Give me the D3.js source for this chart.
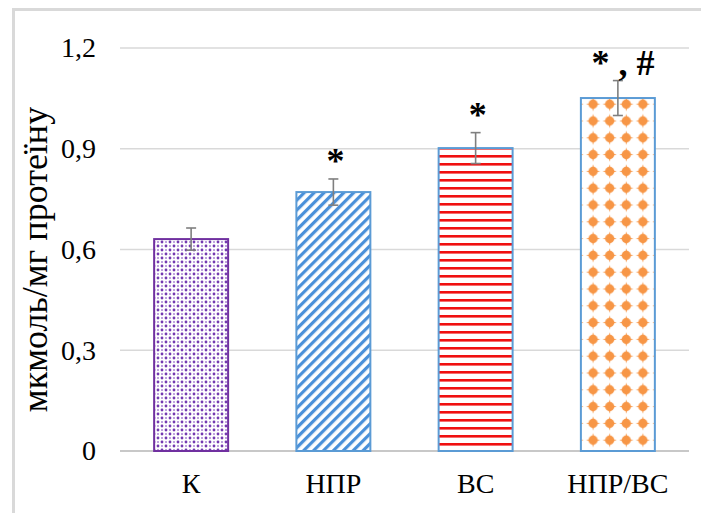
<!DOCTYPE html>
<html>
<head>
<meta charset="utf-8">
<script src="https://cdn.jsdelivr.net/npm/d3@7"></script>
<style>
  body { margin: 0; background: #fff; overflow: hidden; }
  svg { display: block; }
  text { font-family: "Liberation Serif", "Times New Roman", serif; fill: #000; }
</style>
</head>
<body>
<svg id="chart"></svg>
<script>
const categories = ['К', 'НПР', 'ВС', 'НПР/ВС'];
const values = [0.631, 0.771, 0.902, 1.051];
const errors = [0.033, 0.039, 0.046, 0.052];
const marks = ['', '*', '*', '* , #'];
const yTicks = [0, 0.3, 0.6, 0.9, 1.2];
const yLabel = 'мкмоль/мг протеїну';

const w = 701, h = 513;
const margin = {top: 48, right: 12, bottom: 62, left: 120};
const innerWidth = 689 - margin.left;
const innerHeight = 451 - margin.top;

const svg = d3.select('#chart')
    .attr('width', w)
    .attr('height', h);

// outer frame (right and bottom sides run off the picture)
svg.append('path')
    .attr('d', `M13.5,${h} V9.5 H${w}`)
    .attr('fill', 'none')
    .attr('stroke', '#d9d9d9')
    .attr('stroke-width', 3);

const defs = svg.append('defs');

// K: fine purple dots
const pK = defs.append('pattern').attr('id', 'pat0')
    .attr('patternUnits', 'userSpaceOnUse').attr('width', 8).attr('height', 8);
pK.append('rect').attr('width', 8).attr('height', 8).attr('fill', '#fff');
[[2, 2, 1.4, '#7339b0'], [6, 6, 1.4, '#7339b0'], [6, 2, 1.0, '#a986d2'], [2, 6, 1.0, '#a986d2']]
    .forEach(d => pK.append('circle').attr('cx', d[0]).attr('cy', d[1]).attr('r', d[2]).attr('fill', d[3]));

// НПР: diagonal stripes
const pN = defs.append('pattern').attr('id', 'pat1')
    .attr('patternUnits', 'userSpaceOnUse').attr('width', 7).attr('height', 7)
    .attr('patternTransform', 'rotate(45)');
pN.append('rect').attr('width', 7).attr('height', 7).attr('fill', '#fff');
pN.append('rect').attr('x', 0).attr('width', 3.2).attr('height', 7).attr('fill', '#4a90d9');

// ВС: horizontal red lines
const pV = defs.append('pattern').attr('id', 'pat2')
    .attr('patternUnits', 'userSpaceOnUse').attr('width', 8).attr('height', 8)
    .attr('y', 451);
pV.append('rect').attr('width', 8).attr('height', 8).attr('fill', '#fff');
pV.append('rect').attr('y', 0).attr('width', 8).attr('height', 2.6).attr('fill', '#f01010');

// НПР/ВС: orange blobs
const pO = defs.append('pattern').attr('id', 'pat3')
    .attr('patternUnits', 'userSpaceOnUse').attr('width', 16.6).attr('height', 16.8)
    .attr('x', 581).attr('y', 451);
pO.append('rect').attr('width', 16.6).attr('height', 16.8).attr('fill', '#fff');
pO.append('circle').attr('cx', 8.3).attr('cy', 8.4).attr('r', 4.6).attr('fill', '#f79646');
pO.append('path').attr('d', 'M8.3,1.2 L10.2,8.4 L8.3,15.6 L6.4,8.4 Z').attr('fill', '#f79646');
pO.append('path').attr('d', 'M1.2,8.4 L8.3,6.5 L15.4,8.4 L8.3,10.3 Z').attr('fill', '#f79646');

const strokes = ['#7030a0', '#5b9bd5', '#5b9bd5', '#5b9bd5'];

const g = svg.append('g')
    .attr('transform', `translate(${margin.left}, ${margin.top})`);

const xScale = d3.scaleBand()
    .domain(categories)
    .range([0, innerWidth])
    .paddingInner(0.48)
    .paddingOuter(0.24);
const yScale = d3.scaleLinear()
    .domain([0, 1.2])
    .range([innerHeight, 0]);

const fmt = d => d === 0 ? '0' : d3.format('.1f')(d).replace('.', ',');

// grid
g.selectAll('.grid').data(yTicks)
    .enter().append('line')
    .attr('class', 'grid')
    .attr('x1', 0).attr('x2', innerWidth)
    .attr('y1', d => yScale(d)).attr('y2', d => yScale(d))
    .attr('stroke', d => d === 0 ? '#c8c8c8' : '#d9d9d9')
    .attr('stroke-width', d => d === 0 ? 2 : 1.5);

const yAxis = d3.axisLeft(yScale).tickValues(yTicks).tickFormat(fmt).tickSize(0).tickPadding(24);
const yAxisG = g.append('g').call(yAxis)
    .attr('font-family', '"Liberation Serif", serif').attr('font-size', 28);
yAxisG.select('.domain').remove();
yAxisG.selectAll('text')
    .style('font-family', '"Liberation Serif", serif')
    .style('font-size', '28px')
    .attr('fill', '#000');

const xAxis = d3.axisBottom(xScale).tickSize(0).tickPadding(22);
const xAxisG = g.append('g').call(xAxis)
    .attr('font-family', '"Liberation Serif", serif').attr('font-size', 28)
    .attr('transform', `translate(0,${innerHeight})`);
xAxisG.select('.domain').remove();
xAxisG.selectAll('text')
    .style('font-family', '"Liberation Serif", serif')
    .style('font-size', '28px')
    .attr('fill', '#000');

g.append('text')
    .attr('transform', 'rotate(-90)')
    .attr('x', -(yScale(0.6) + 10))
    .attr('y', -73)
    .attr('text-anchor', 'middle')
    .style('font-size', '36px')
    .text(yLabel);

// bars
g.selectAll('.bar').data(values)
    .enter().append('rect')
    .attr('class', 'bar')
    .attr('x', (d, i) => xScale(categories[i]))
    .attr('y', d => yScale(d))
    .attr('width', xScale.bandwidth())
    .attr('height', d => innerHeight - yScale(d))
    .attr('fill', (d, i) => `url(#pat${i})`)
    .attr('stroke', (d, i) => strokes[i])
    .attr('stroke-width', 2);

// error bars
const eg = g.selectAll('.err').data(values)
    .enter().append('g').attr('class', 'err')
    .attr('stroke', '#7f7f7f').attr('stroke-width', 1.6);
eg.append('line')
    .attr('x1', (d, i) => xScale(categories[i]) + xScale.bandwidth() / 2)
    .attr('x2', (d, i) => xScale(categories[i]) + xScale.bandwidth() / 2)
    .attr('y1', (d, i) => yScale(d + errors[i]))
    .attr('y2', (d, i) => yScale(d - errors[i]));
[1, -1].forEach(s => {
    eg.append('line')
        .attr('x1', (d, i) => xScale(categories[i]) + xScale.bandwidth() / 2 - 5)
        .attr('x2', (d, i) => xScale(categories[i]) + xScale.bandwidth() / 2 + 5)
        .attr('y1', (d, i) => yScale(d + s * errors[i]))
        .attr('y2', (d, i) => yScale(d + s * errors[i]));
});

// significance marks
g.selectAll('.mark').data(values)
    .enter().append('text')
    .attr('class', 'mark')
    .attr('x', (d, i) => xScale(categories[i]) + xScale.bandwidth() / 2 + (i === 3 ? 5 : 2))
    .attr('y', (d, i) => yScale(d + errors[i]) - 6)
    .attr('text-anchor', 'middle')
    .style('font-family', '"Liberation Serif", serif')
    .style('font-weight', 'bold')
    .style('font-size', '36px')
    .attr('xml:space', 'preserve')
    .text((d, i) => marks[i]);
</script>
</body>
</html>
